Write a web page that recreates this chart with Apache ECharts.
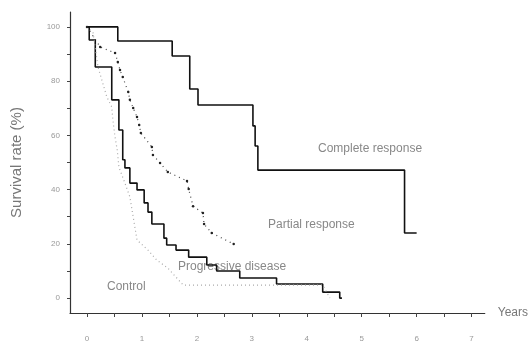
<!DOCTYPE html>
<html><head><meta charset="utf-8">
<script src="https://cdn.jsdelivr.net/npm/echarts@6/dist/echarts.min.js"></script>
<style>html,body{margin:0;padding:0;background:#fff}#c{width:531px;height:345px}</style>
</head><body><div id="c"></div>
<script>
// Kaplan-Meier style survival curves (years, survival %)
var completeResponse = [[0,100],[0.56,94.8],[1.55,89.3],[1.87,77.1],[2.02,71.2],[3.02,63.5],[3.06,56.1],[3.11,47.2],[5.78,24.0],[6.0,24.0]];
var partialResponse = [[0,100],[0.24,92.6],[0.51,90.4],[0.56,87.1],[0.6,84.1],[0.65,81.5],[0.75,76.0],[0.78,73.1],[0.84,70.1],[0.91,66.8],[0.95,63.8],[0.98,60.9],[1.18,55.7],[1.2,52.8],[1.33,49.8],[1.47,46.5],[1.82,43.2],[1.85,40.2],[1.93,33.9],[2.11,31.4],[2.13,27.3],[2.27,24.0],[2.67,19.9]];
var progressiveDisease = [[0,100],[0.04,95.2],[0.15,85.2],[0.45,73.1],[0.58,62.0],[0.65,51.0],[0.69,48.0],[0.78,42.4],[0.91,39.9],[1.04,35.1],[1.11,31.7],[1.18,27.3],[1.4,22.1],[1.45,19.6],[1.62,17.7],[1.85,15.1],[2.18,12.2],[2.36,10.0],[2.78,7.4],[3.45,5.2],[4.29,2.2],[4.6,0],[4.64,0]];
var control = [[0,100],[0.11,97.8],[0.2,85.2],[0.27,80.4],[0.36,74.2],[0.45,70.5],[0.47,65.7],[0.51,59.4],[0.55,54.6],[0.58,48.3],[0.69,42.4],[0.78,37.3],[0.91,21.4],[1.11,17.7],[1.27,14.0],[1.47,11.1],[1.75,4.8],[4.29,4.8],[4.42,0]];
var xLabels = [0,1,2,3,4,5,6,7];
var xTicks = [0,0.5,1,1.5,2,2.5,3,3.5,4,4.5,5,5.5,6,6.5,7];
var yLabels = [0,20,40,60,80,100];
var yTicks = [0,10,20,30,40,50,60,70,80,90,100];
var seriesNames = ['Complete response','Partial response','Progressive disease','Control'];

var chart = echarts.init(document.getElementById('c'), null, {renderer:'canvas'});
var FONT = 'Liberation Sans, Arial, sans-serif';
chart.setOption({
  animation:false,
  backgroundColor:'#fff',
  grid:{left:70,right:46,top:12,bottom:32},
  xAxis:{type:'value',min:-0.31,max:7.24,
    name:'Years',nameLocation:'end',nameGap:13,
    nameTextStyle:{color:'#777',fontSize:12,fontFamily:FONT},
    axisLine:{show:true,onZero:false,lineStyle:{color:'#333',width:1.2}},
    axisTick:{show:true,customValues:xTicks,length:4,lineStyle:{color:'#444'}},
    axisLabel:{customValues:xLabels,color:'#999',fontSize:8,margin:22,fontFamily:FONT},
    splitLine:{show:false}},
  yAxis:{type:'value',min:-5.5,max:105.5,
    name:'Survival rate (%)',nameLocation:'middle',nameGap:46,
    nameTextStyle:{color:'#777',fontSize:15,fontFamily:FONT},
    axisLine:{show:true,onZero:false,lineStyle:{color:'#333',width:1.2}},
    axisTick:{show:true,customValues:yTicks,length:3,lineStyle:{color:'#444'}},
    axisLabel:{customValues:yLabels,color:'#999',fontSize:8,margin:10,fontFamily:FONT},
    splitLine:{show:false}},
  series:[
    {name:seriesNames[0],type:'line',step:'end',data:completeResponse,showSymbol:false,
     lineStyle:{color:'#111',width:1.6}},
    {name:seriesNames[1],type:'line',data:partialResponse,showSymbol:true,symbol:'circle',symbolSize:2.5,
     itemStyle:{color:'#222'},lineStyle:{color:'#444',width:1.2,type:[1,4]}},
    {name:seriesNames[2],type:'line',step:'end',data:progressiveDisease,showSymbol:false,
     lineStyle:{color:'#111',width:1.6}},
    {name:seriesNames[3],type:'line',data:control,showSymbol:false,
     lineStyle:{color:'#aaa',width:1.2,type:[1,3]}}
  ],
  graphic:[
    {type:'text',left:318,top:143,style:{text:'Complete response',fill:'#888',font:'12px '+FONT}},
    {type:'text',left:268,top:219,style:{text:'Partial response',fill:'#888',font:'12px '+FONT}},
    {type:'text',left:178,top:261,style:{text:'Progressive disease',fill:'#888',font:'12px '+FONT}},
    {type:'text',left:107,top:281,style:{text:'Control',fill:'#888',font:'12px '+FONT}}
  ]
});
</script></body></html>
